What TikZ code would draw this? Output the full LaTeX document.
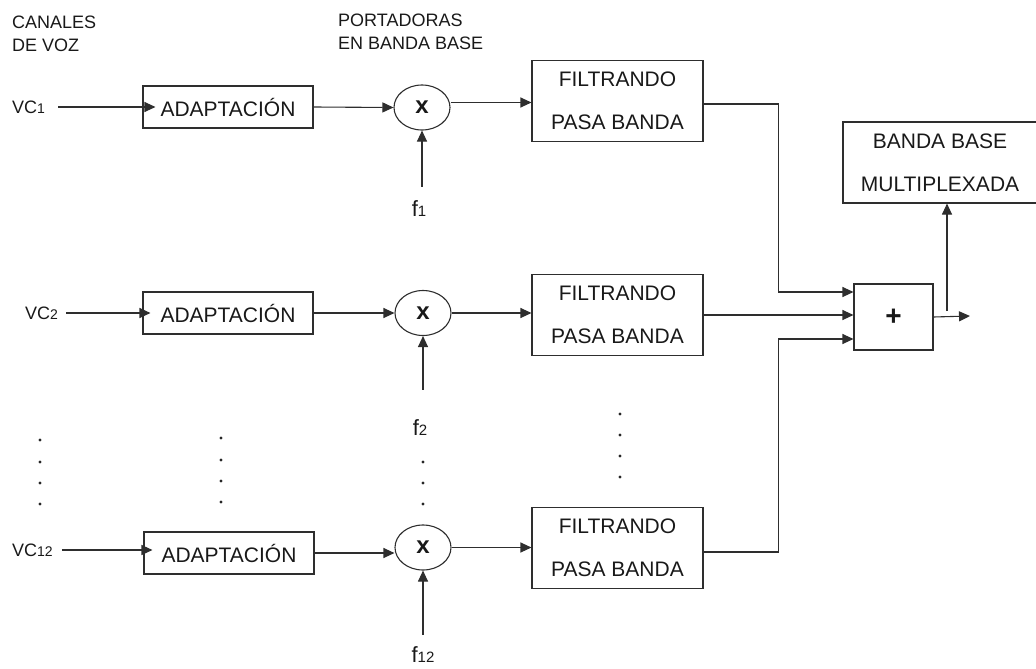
\documentclass[tikz,border=0pt]{standalone}
\usepackage{fontspec}
\setmainfont{Liberation Sans}
\usetikzlibrary{arrows.meta,shapes.geometric,calc}
\newcommand\vcnum[1]{{\fontsize{14}{14}\selectfont #1}}
\newcommand\fnum[1]{{\fontsize{15}{15}\selectfont #1}}
\begin{document}
\begin{tikzpicture}[x=1pt,y=-1pt,
  every node/.style={text=black!90},
  ln/.style={draw=black!82, line width=1.1pt},
  arr/.style={ln, -{Triangle[length=11pt,width=10pt]}},
  lab/.style={font=\fontsize{18}{23}\selectfont, inner sep=0, align=left},
  vclab/.style={font=\fontsize{18}{18}\selectfont, inner sep=0, anchor=west},
  flab/.style={font=\fontsize{22}{22}\selectfont, inner sep=0},
  adapt/.style={draw=black!82, line width=1.1pt, minimum width=170pt, minimum height=42pt, inner sep=0, font=\fontsize{21}{21}\selectfont},
  mix/.style={draw=black!82, line width=1.1pt, ellipse, minimum width=56pt, minimum height=45pt, inner sep=0, font=\fontsize{24}{24}\selectfont\bfseries},
  filt/.style={draw=black!82, line width=1.1pt, minimum width=171pt, minimum height=81pt, inner sep=0, align=center, font=\fontsize{21}{42.5}\selectfont},
  dot/.style={circle, fill=black!85, inner sep=0, minimum size=3.4pt}
]
\useasboundingbox (0,0) rectangle (1036,669);

% header labels
\node[lab, anchor=west] (canales) at (12,33.5) {CANALES\\DE VOZ};
\node[lab, anchor=west] (portadoras) at (338,31.5) {PORTADORAS\\EN BANDA BASE};

% row 1
\node[vclab] (vc1) at (12,107) {VC\vcnum{1}};
\node[adapt] (A1) at (228,107) {ADAPTACIÓN};
\node[mix] (M1) at (422,107.5) {x};
\node[flab] (f1) at (419,209) {f\fnum{1}};
\node[filt] (F1) at (617.5,101) {FILTRANDO\\PASA BANDA};

% row 2
\node[vclab] (vc2) at (25,313) {VC\vcnum{2}};
\node[adapt] (A2) at (228,313) {ADAPTACIÓN};
\node[mix] (M2) at (423,313) {x};
\node[flab] (f2) at (420,428) {f\fnum{2}};
\node[filt] (F2) at (617.5,315) {FILTRANDO\\PASA BANDA};

% row 3
\node[vclab] (vc3) at (12,550) {VC\vcnum{12}};
\node[adapt] (A3) at (229,553) {ADAPTACIÓN};
\node[mix] (M3) at (423,547.5) {x};
\node[flab] (f3) at (423,655) {f\fnum{12}};
\node[filt] (F3) at (617.5,548) {FILTRANDO\\PASA BANDA};

% sum and output
\node[draw=black!82, line width=1.1pt, minimum width=79pt, minimum height=66pt, inner sep=0, font=\fontsize{28}{28}\selectfont\bfseries] (S) at (893.5,317) {+};
\node[draw=black!82, line width=1.1pt, minimum width=194pt, minimum height=81pt, inner sep=0, align=center, font=\fontsize{21}{43}\selectfont] (B) at (940,162.5) {BANDA BASE\\MULTIPLEXADA};
\coordinate (out) at (970,316);
\coordinate (tap) at (947,311);

% connectors row 1
\draw[arr] ([xshift=13pt]vc1.east) -- ([xshift=13pt]vc1.east -| A1.west);
\draw[arr] (A1.east) -- (M1.west);
\draw[arr] ([yshift=5pt]M1.east) -- ([yshift=5pt]M1.east -| F1.west);
\draw[arr] ([yshift=14pt]f1.north -| M1.south) -- (M1.south);
% row 2
\draw[arr] ([xshift=8pt]vc2.east) -- ([xshift=8pt]vc2.east -| A2.west);
\draw[arr] (A2.east) -- (M2.west);
\draw[arr] (M2.east) -- (M2.east -| F2.west);
\draw[arr] ([yshift=30pt]f2.north -| M2.south) -- (M2.south);
% row 3
\draw[arr] ([xshift=9pt]vc3.east) -- ([xshift=9pt]vc3.east -| A3.west);
\draw[arr] (A3.east) -- (A3.east -| M3.west);
\draw[arr] (M3.east) -- (M3.east -| F3.west);
\draw[arr] ([yshift=12pt]f3.north -| M3.south) -- (M3.south);

% to sum
\draw[arr] ([yshift=-3pt]F1.east) -- ++(75,0) |- ([yshift=25pt]S.west);
\draw[arr] (F2.east) -- (F2.east -| S.west);
\draw[arr] ([yshift=-4pt]F3.east) -- ++(75,0) |- ([yshift=-22pt]S.west);
\draw[arr] (S.east) -- (out);
\draw[arr] (tap) -- (tap |- B.south);

% dots
\foreach \y in {440,462,483,504} \node[dot] at (40,\y) {};
\foreach \y in {438,460,481,502} \node[dot] at (221,\y) {};
\foreach \y in {462,483,504} \node[dot] at (423,\y) {};
\foreach \y in {414,435,456,477} \node[dot] at (620,\y) {};
\end{tikzpicture}
\end{document}
